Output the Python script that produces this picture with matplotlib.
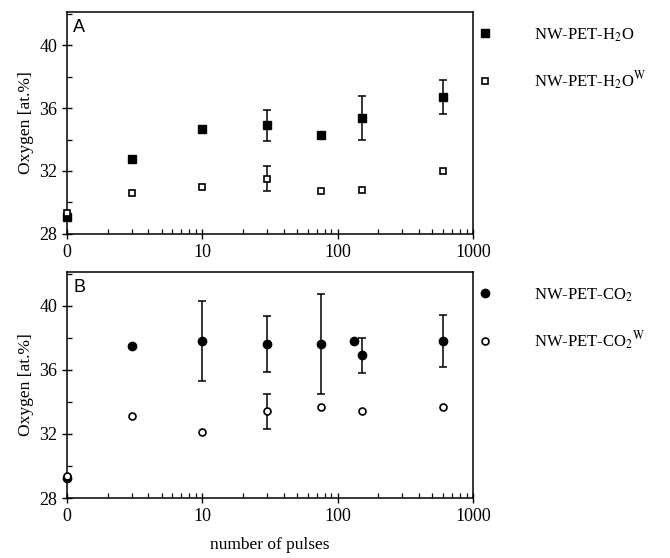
import numpy as np
import matplotlib
matplotlib.use('Agg')
import matplotlib.pyplot as plt
from matplotlib.ticker import FixedLocator, MultipleLocator, LogLocator, NullFormatter

plt.rcParams['font.family'] = ['Liberation Serif', 'DejaVu Serif']
plt.rcParams['mathtext.fontset'] = 'stix'

# pulses (the "0" pulses point is drawn at x=1 on the log axis)
pulses = [1, 3, 10, 30, 75, 150, 600]

h2o = [29.1, 32.75, 34.7, 34.9, 34.3, 35.4, 36.7]
h2o_err = [0, 0, 0, 1.0, 0, 1.4, 1.1]
h2o_w = [29.3, 30.6, 31.0, 31.5, 30.75, 30.8, 32.0]
h2o_w_err = [0, 0, 0, 0.8, 0, 0, 0]

pulses_co2 = [1, 3, 10, 30, 75, 133, 150, 600]
co2 = [29.25, 37.5, 37.8, 37.6, 37.6, 37.8, 36.9, 37.8]
co2_err = [0, 0, 2.5, 1.75, 3.1, 0, 1.1, 1.6]
pulses_co2_w = [1, 3, 10, 30, 75, 150, 600]
co2_w = [29.4, 33.1, 32.1, 33.4, 33.7, 33.4, 33.7]
co2_w_err = [0, 0, 0, 1.1, 0, 0, 0]

xticks = [1, 10, 100, 1000]
xticklabels = ['0', '10', '100', '1000']
yticks = [28, 32, 36, 40]


def draw_panel(ax, x1, y1, e1, x2, y2, e2, marker, lab1, lab2, letter):
    for x, y, e in ((x1, y1, e1), (x2, y2, e2)):
        idx = [i for i, v in enumerate(e) if v > 0]
        ax.errorbar([x[i] for i in idx], [y[i] for i in idx], yerr=[e[i] for i in idx],
                    fmt='none', ecolor='black', elinewidth=1.1, capsize=3, capthick=1.1)
    ax.plot(x1, y1, linestyle='none', marker=marker, ms=6, mfc='black', mec='black',
            label=lab1, clip_on=False, zorder=4)
    ax.plot(x2, y2, linestyle='none', marker=marker, ms=5, mfc='white', mec='black',
            mew=1.2, label=lab2, clip_on=False, zorder=5)
    ax.set_xscale('log')
    ax.set_xlim(1, 1000)
    ax.set_ylim(28, 42.1)
    ax.xaxis.set_major_locator(FixedLocator(xticks))
    ax.set_xticklabels(xticklabels)
    ax.xaxis.set_minor_locator(LogLocator(base=10, subs=np.arange(2, 10)))
    ax.xaxis.set_minor_formatter(NullFormatter())
    ax.set_yticks(yticks)
    ax.yaxis.set_minor_locator(MultipleLocator(2))
    ax.tick_params(which='major', direction='inout', length=7, width=1, labelsize=13)
    ax.tick_params(which='minor', direction='in', length=3.5, width=0.9)
    for s in ax.spines.values():
        s.set_linewidth(1.1)
    ax.set_ylabel('Oxygen [at.%]', fontsize=12.5, labelpad=4)
    ax.text(0.015, 0.97, letter, transform=ax.transAxes, ha='left', va='top',
            fontsize=13, family=['Liberation Sans', 'DejaVu Sans'])
    ax.legend(loc='upper left', bbox_to_anchor=(0.993, 0.967), frameon=False,
              handlelength=1, handletextpad=2.45, labelspacing=1.55, borderaxespad=0,
              fontsize=12)


fig = plt.figure(figsize=(6.7, 5.58), dpi=100)
ax1 = fig.add_axes([0.1, 0.581, 0.606, 0.397])
ax2 = fig.add_axes([0.1, 0.1075, 0.606, 0.405])

draw_panel(ax1, pulses, h2o, h2o_err, pulses, h2o_w, h2o_w_err, 's',
           'NW-PET-H$_2$O', 'NW-PET-H$_2$O$^\\mathrm{W}$', 'A')
draw_panel(ax2, pulses_co2, co2, co2_err, pulses_co2_w, co2_w, co2_w_err, 'o',
           'NW-PET-CO$_2$', 'NW-PET-CO$_2$$^\\mathrm{W}$', 'B')
ax2.set_xlabel('number of pulses', fontsize=12.5, labelpad=9)

fig.savefig('out.png', dpi=100)
